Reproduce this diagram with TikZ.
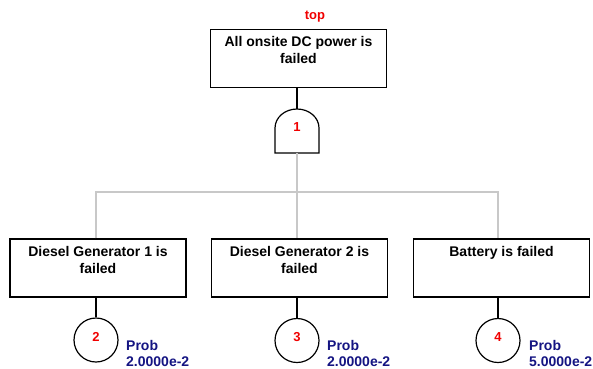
\documentclass[tikz,border=0pt]{standalone}
\usepackage{fontspec}
\setmainfont{Liberation Sans}
\definecolor{navyb}{RGB}{20,20,130}
\definecolor{redt}{RGB}{240,0,0}
\definecolor{grayl}{RGB}{200,200,200}
\begin{document}
\begin{tikzpicture}[x=1pt,y=-1pt,
  evbox/.style={draw=black,line width=1.3pt,minimum width=176pt,minimum height=58pt,inner sep=0pt},
  evtext/.style={font=\fontsize{14}{16.5}\selectfont\bfseries,align=center,inner sep=0pt,anchor=north},
  basic/.style={draw=black,line width=1.2pt,circle,minimum size=44pt,inner sep=0pt},
  numtext/.style={font=\fontsize{13}{14}\selectfont\bfseries,text=redt,inner sep=0pt},
  probtext/.style={font=\fontsize{14}{16}\selectfont\bfseries,text=navyb,align=left,anchor=west,inner sep=0pt},
  blk/.style={draw=black,line width=1.2pt},
  gry/.style={draw=grayl,line width=1.8pt}]
\useasboundingbox (0,0) rectangle (593,368);
% top event
\node[evbox] (top) at (298.5,58.5) {};
\node[evtext] (toptxt) at (298.5,36.5) {All onsite DC power is\\failed};
\node[font=\fontsize{13}{15}\selectfont\bfseries,text=redt,inner sep=0pt] (toplbl) at (315,17) {top};
% AND gate
\coordinate (gtop) at (297,109);
\coordinate (gbot) at (297,153);
\draw[blk,fill=white] (275,153) -- (275,128) arc[start angle=180,end angle=360,x radius=22,y radius=19] -- (319,153) -- cycle;
\node[numtext] (g1) at (297,127) {1};
% basic events
\node[evbox] (e2) at (98,268) {};
\node[evtext] at (98,246.5) {Diesel Generator 1 is\\failed};
\node[evbox] (e3) at (299.5,268) {};
\node[evtext] at (299.5,246.5) {Diesel Generator 2 is\\failed};
\node[evbox] (e4) at (501.5,268) {};
\node[evtext] at (501.5,246.5) {Battery is failed};
% connectors
\draw[blk] (top.south -| gtop) -- (gtop);
\coordinate (hb) at (297,192);
\draw[gry] (gbot) -- (hb);
\draw[gry] (e2.north -| 96,0) -- (96,192) -- (498,192) -- (e4.north -| 498,0);
\draw[gry] (hb) -- (e3.north -| hb);
% circles
\node[basic] (c2) at (96,340) {};
\node[basic] (c3) at (297,340.5) {};
\node[basic] (c4) at (498,340.5) {};
\draw[blk] (e2.south -| c2) -- (c2.north);
\draw[blk] (e3.south -| c3) -- (c3.north);
\draw[blk] (e4.south -| c4) -- (c4.north);
\node[numtext] at (96,337) {2};
\node[numtext] at (297,337) {3};
\node[numtext] at (498,337) {4};
\node[probtext] at (126,353) {Prob\\2.0000e-2};
\node[probtext] at (327,353) {Prob\\2.0000e-2};
\node[probtext] at (529,353) {Prob\\5.0000e-2};
\end{tikzpicture}
\end{document}
